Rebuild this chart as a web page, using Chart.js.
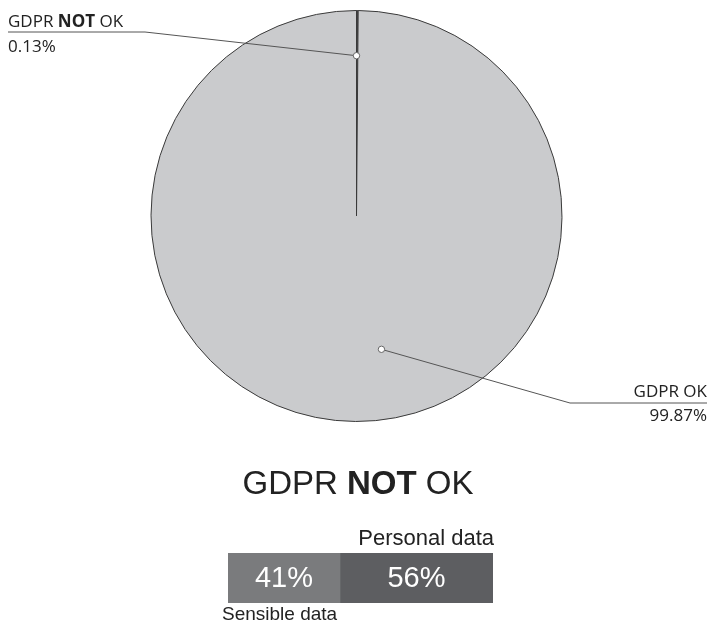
<!DOCTYPE html>
<html>
<head>
<meta charset="utf-8">
<script src="https://cdn.jsdelivr.net/npm/chart.js@4.4.0/dist/chart.umd.min.js"></script>
<style>
  body { margin: 0; background: #fff; width: 710px; height: 627px; position: relative; overflow: hidden; }
  #pieBox { position: absolute; left: 0; top: 0; width: 710px; height: 627px; }
  #barBox { position: absolute; left: 200px; top: 515px; width: 320px; height: 112px; }
</style>
</head>
<body>
<div id="pieBox"><canvas id="pieChart"></canvas></div>
<div id="barBox"><canvas id="barChart"></canvas></div>
<script>
// pie data
const pieLabels = ['GDPR NOT OK', 'GDPR OK'];
const pieValues = [0.13, 99.87];
const pieColors = ['#4a4a4c', '#cacbcd'];

// bar data
const barLabels = ['Sensible data', 'Personal data'];
const barValues = [41, 56];
const barColors = ['#7a7b7d', '#5d5e61'];

const titleText = 'GDPR NOT OK';

const labelFont = '"Open Sans", sans-serif';
const sansFont = '"Liberation Sans", Arial, sans-serif';

// draw text where the word NOT is bold
function drawRich(ctx, text, x, y, size, family, align) {
  const parts = text.split(/(NOT)/).filter(p => p.length);
  const fonts = parts.map(p => (p === 'NOT' ? 'bold ' : '') + size + 'px ' + family);
  let widths = parts.map((p, i) => { ctx.font = fonts[i]; return ctx.measureText(p).width; });
  let total = widths.reduce((a, b) => a + b, 0);
  let cx = align === 'right' ? x - total : align === 'center' ? x - total / 2 : x;
  ctx.textAlign = 'left';
  parts.forEach((p, i) => {
    ctx.font = fonts[i];
    ctx.fillText(p, cx, y);
    cx += widths[i];
  });
}

// leader line settings per slice (angle in degrees, canvas style)
const leaders = [
  { angle: -90, frac: 0.78, elbow: [145, 32], end: 8, align: 'left', top: 27, bottom: 52 },
  { angle: 79.4, frac: 0.66, elbow: [570, 403], end: 707, align: 'right', top: 397, bottom: 421 }
];

const pieLabelPlugin = {
  id: 'pieLabels',
  afterDatasetsDraw(chart) {
    const ctx = chart.ctx;
    const arc = chart.getDatasetMeta(0).data[0];
    ctx.save();
    leaders.forEach((ld, i) => {
      const a = ld.angle * Math.PI / 180;
      const px = arc.x + Math.cos(a) * arc.outerRadius * ld.frac;
      const py = arc.y + Math.sin(a) * arc.outerRadius * ld.frac;
      ctx.strokeStyle = '#555';
      ctx.lineWidth = 1;
      ctx.beginPath();
      ctx.moveTo(px, py);
      ctx.lineTo(ld.elbow[0], ld.elbow[1]);
      ctx.lineTo(ld.end, ld.elbow[1]);
      ctx.stroke();
      ctx.beginPath();
      ctx.arc(px, py, 3.2, 0, Math.PI * 2);
      ctx.fillStyle = '#fff';
      ctx.fill();
      ctx.strokeStyle = '#666';
      ctx.stroke();

      ctx.fillStyle = '#222';
      ctx.textBaseline = 'alphabetic';
      drawRich(ctx, pieLabels[i], ld.end, ld.top, 17, labelFont, ld.align);
      ctx.font = '17px ' + labelFont;
      ctx.textAlign = ld.align;
      ctx.fillText(pieValues[i].toFixed(2) + '%', ld.end, ld.bottom);
    });
    // title under the pie
    ctx.fillStyle = '#222';
    drawRich(ctx, titleText, 358, 494, 33, sansFont, 'center');
    ctx.restore();
  }
};

new Chart(document.getElementById('pieChart').getContext('2d'), {
  type: 'pie',
  data: {
    labels: pieLabels,
    datasets: [{
      data: pieValues,
      backgroundColor: pieColors,
      borderColor: '#3a3a3a',
      borderWidth: 1
    }]
  },
  options: {
    responsive: true,
    maintainAspectRatio: false,
    animation: false,
    layout: { padding: { top: 10, left: 3, right: 0, bottom: 205 } },
    plugins: { legend: { display: false }, tooltip: { enabled: false } }
  },
  plugins: [pieLabelPlugin]
});

const barTextPlugin = {
  id: 'barText',
  afterDatasetsDraw(chart) {
    const ctx = chart.ctx;
    const area = chart.chartArea;
    ctx.save();
    ctx.fillStyle = '#fff';
    ctx.font = '29px ' + sansFont;
    ctx.textAlign = 'center';
    ctx.textBaseline = 'middle';
    chart.data.datasets.forEach((ds, i) => {
      const bar = chart.getDatasetMeta(i).data[0];
      const mid = (bar.x + bar.base) / 2;
      ctx.fillText(ds.data[0] + '%', mid, bar.y + 1);
    });
    ctx.fillStyle = '#222';
    ctx.textBaseline = 'alphabetic';
    ctx.font = '22px ' + sansFont;
    ctx.textAlign = 'right';
    ctx.fillText(barLabels[1], area.right + 1, area.top - 8);
    ctx.font = '19px ' + sansFont;
    ctx.textAlign = 'left';
    ctx.fillText(barLabels[0], area.left - 6, area.bottom + 17);
    ctx.restore();
  }
};

new Chart(document.getElementById('barChart').getContext('2d'), {
  type: 'bar',
  data: {
    labels: [''],
    datasets: barLabels.map((l, i) => ({
      label: l,
      data: [barValues[i]],
      backgroundColor: barColors[i],
      borderWidth: 0,
      barPercentage: 1,
      categoryPercentage: 1
    }))
  },
  options: {
    indexAxis: 'y',
    responsive: true,
    maintainAspectRatio: false,
    animation: false,
    layout: { padding: { left: 28, right: 27, top: 38, bottom: 24 } },
    scales: {
      x: { stacked: true, display: false, min: 0, max: barValues.reduce((a, b) => a + b, 0) },
      y: { stacked: true, display: false }
    },
    plugins: { legend: { display: false }, tooltip: { enabled: false } }
  },
  plugins: [barTextPlugin]
});
</script>
</body>
</html>
